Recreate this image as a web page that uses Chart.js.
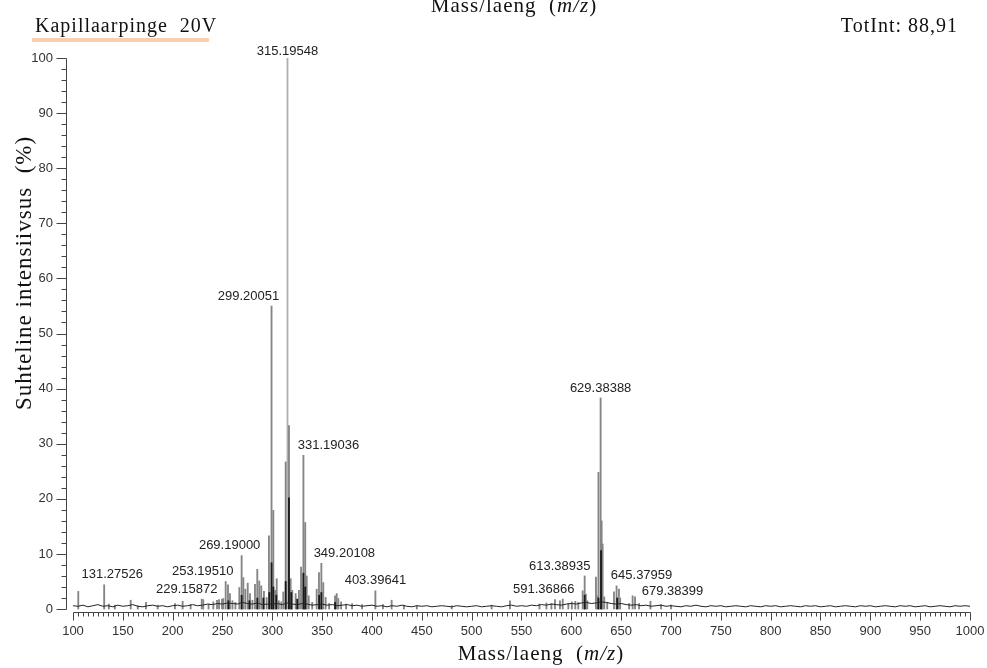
<!DOCTYPE html>
<html>
<head>
<meta charset="utf-8">
<script src="https://cdn.jsdelivr.net/npm/chart.js@4.4.0/dist/chart.umd.min.js"></script>
<style>
  html, body { margin: 0; padding: 0; background: #fff; }
  #wrap { width: 987px; height: 668px; }
</style>
</head>
<body>
<div id="wrap"><canvas id="spectrum"></canvas></div>
<script>
// stick spectrum, m/z vs relative intensity (%)
const peakMz = [105.3, 131.27526, 136, 142, 157.9, 165, 173.2, 185, 202.3, 210, 218, 229.15872, 230.7, 236, 240.8,
  244.5, 246.5, 249.5, 250.8, 253.1951, 255.5, 257.5, 260, 263, 266.9, 269.19, 270.9, 272.9, 275.3, 277.6, 280,
  282.6, 284.9, 286.9, 288.9, 291.6, 294.3, 296.6, 299.20051, 301.0, 303.0, 304.4, 306.5, 309, 311, 313.4, 316.7,
  318.4, 320, 323.4, 326.7, 328.8, 331.19036, 333.0, 334.5, 336.5, 340, 344.5, 346.8, 349.20108, 351.1, 353.5, 357,
  362.9, 364.6, 366.2, 369, 374, 380, 390, 403.39641, 411, 419.7, 432, 445, 480, 520, 538.4, 568, 575, 580, 583.6,
  588.6, 591.36866, 597, 600.5, 604, 607, 611.4, 613.38935, 614.6, 616, 624.7, 626.2, 627.2, 629.38388, 630.4, 631.4,
  633, 636, 642.8, 645.37959, 647.8, 649, 658, 661.5, 663.9, 668, 679.38399, 690, 700];
const peakInt = [3.2, 4.4, 0.9, 0.7, 1.6, 0.6, 1.2, 0.7, 1.0, 1.4, 0.8, 1.8, 1.7, 0.9, 1.3,
  1.6, 1.7, 1.8, 1.9, 5.0, 4.4, 2.8, 1.5, 1.2, 3.9, 9.7, 5.7, 3.6, 4.7, 2.8, 1.6,
  4.5, 7.2, 5.1, 4.2, 3.2, 2.1, 13.3, 55.0, 17.9, 3.4, 5.5, 1.5, 1.3, 3.1, 26.7, 33.3,
  5.5, 3.4, 2.8, 3.4, 7.6, 27.9, 15.7, 6.0, 2.4, 1.2, 3.6, 6.6, 8.3, 4.8, 2.1, 1.0,
  2.4, 2.8, 1.9, 1.3, 0.9, 1.0, 0.8, 3.3, 0.8, 1.6, 0.7, 0.6, 0.6, 0.7, 1.5, 0.9, 1.1, 1.0, 1.7,
  1.5, 1.8, 1.0, 1.3, 1.4, 1.2, 3.3, 6.0, 2.7, 1.5, 5.8, 2.4, 24.8, 38.3, 16.0, 11.8,
  2.2, 1.2, 3.1, 4.2, 3.6, 2.0, 1.0, 2.4, 2.2, 1.0, 1.4, 0.8, 0.7];

const basePeakMz = [315.19548];
const basePeakInt = [100];

// darker sticks that sit over the grey ones
const overlapMz = [256, 269.19, 277, 285, 291, 297, 299.20051, 301, 304, 313.4, 316.7, 319, 325, 331.19036, 333,
  347, 349.20108, 363, 613.38935, 627.2, 629.8, 646];
const overlapInt = [1.5, 2.5, 1.5, 2.0, 2.0, 3.0, 8.4, 4.0, 2.5, 5.0, 20.2, 3.0, 1.8, 6.5, 4.0,
  2.5, 3.0, 1.2, 2.5, 2.0, 10.6, 2.0];

// baseline noise, one value every 5 m/z from 100 to 1000
const noiseStartMz = 100;
const noiseStepMz = 5;
const noiseInt = [
  0.6, 0.5, 0.7, 0.4, 0.6, 0.8, 0.5, 0.6, 0.4, 0.7, 0.5, 0.6, 0.8, 0.5, 0.4, 0.6, 0.7, 0.5, 0.6, 0.4,
  0.6, 0.7, 0.5, 0.6, 0.8, 0.6, 0.7, 0.9, 0.8, 1.0, 0.9, 1.1, 1.0, 0.9, 1.2, 1.0, 0.9, 1.1, 0.8, 0.9,
  0.9, 1.0, 0.8, 1.1, 0.9, 0.8, 1.0, 0.9, 0.7, 0.8, 0.9, 0.7, 0.8, 0.6, 0.7, 0.8, 0.6, 0.7, 0.5, 0.6,
  0.7, 0.5, 0.6, 0.4, 0.6, 0.5, 0.7, 0.5, 0.4, 0.6, 0.5, 0.6, 0.4, 0.5, 0.6, 0.5, 0.4, 0.6, 0.5, 0.4,
  0.5, 0.6, 0.4, 0.5, 0.6, 0.5, 0.4, 0.6, 0.7, 0.5, 0.6, 0.5, 0.7, 0.6, 0.8, 0.7, 0.9, 0.8, 0.7, 0.9,
  1.0, 0.9, 1.1, 1.2, 1.0, 1.1, 1.3, 1.2, 1.0, 0.9, 1.0, 0.8, 0.7, 0.8, 0.6, 0.7, 0.5, 0.6, 0.7, 0.5,
  0.6, 0.5, 0.4, 0.6, 0.5, 0.7, 0.5, 0.4, 0.6, 0.5, 0.6, 0.4, 0.5, 0.6, 0.5, 0.4, 0.6, 0.5, 0.4, 0.6,
  0.5, 0.6, 0.4, 0.5, 0.6, 0.5, 0.4, 0.6, 0.5, 0.6, 0.4, 0.5, 0.6, 0.4, 0.5, 0.6, 0.5, 0.4, 0.6, 0.5,
  0.6, 0.4, 0.5, 0.6, 0.5, 0.4, 0.6, 0.5, 0.6, 0.4, 0.5, 0.6, 0.4, 0.5, 0.6, 0.5, 0.4, 0.6, 0.5, 0.6,
  0.5];

// annotated peaks
const labelMz = [131.27526, 229.15872, 253.19510, 269.19000, 299.20051, 315.19548, 331.19036, 349.20108,
  403.39641, 591.36866, 613.38935, 629.38388, 645.37959, 679.38399];
const labelInt = [4.4, 1.8, 5.0, 9.7, 55.0, 100, 27.9, 8.3, 3.3, 1.8, 6.0, 38.3, 4.2, 1.4];
const labelShift = [8, -15, -23, -12, -23, 0, 25, 23, 0, -19, -25, 0, 25, 22];

const xTickValues = [100, 150, 200, 250, 300, 350, 400, 450, 500, 550, 600, 650, 700, 750, 800, 850, 900, 950, 1000];
const yTickValues = [0, 10, 20, 30, 40, 50, 60, 70, 80, 90, 100];

const sans = '"Liberation Sans", Arial, sans-serif';
const serif = '"Liberation Serif", "Times New Roman", serif';

const toPoints = (xs, ys) => xs.map((m, i) => ({ x: m, y: ys[i] }));

const decorations = {
  id: 'decorations',
  afterDraw(chart) {
    const ctx = chart.ctx;
    const xs = chart.scales.x, ys = chart.scales.y;
    const left = Math.round(chart.chartArea.left) + 0.5;
    const bottom = Math.round(chart.chartArea.bottom) + 0.5;
    ctx.save();

    // axes with major / minor ticks
    ctx.strokeStyle = '#444';
    ctx.lineWidth = 1;
    ctx.beginPath();
    ctx.moveTo(left, Math.round(ys.getPixelForValue(0)) + 0.5);
    ctx.lineTo(left, Math.round(ys.getPixelForValue(100)) + 0.5);
    for (let v = 0; v <= 100; v += 2) {
      const py = Math.round(ys.getPixelForValue(v)) + 0.5;
      const len = v % 10 === 0 ? 10 : 5;
      ctx.moveTo(left - len, py);
      ctx.lineTo(left, py);
    }
    ctx.moveTo(Math.round(xs.getPixelForValue(100)) + 0.5, bottom);
    ctx.lineTo(Math.round(xs.getPixelForValue(1000)) + 0.5, bottom);
    for (let v = 100; v <= 1000; v += 5) {
      const px = Math.round(xs.getPixelForValue(v)) + 0.5;
      const len = v % 50 === 0 ? 8 : 4;
      ctx.moveTo(px, bottom);
      ctx.lineTo(px, bottom + len);
    }
    ctx.stroke();

    // peak annotations
    ctx.fillStyle = '#222';
    ctx.font = '13px ' + sans;
    ctx.textAlign = 'center';
    ctx.textBaseline = 'middle';
    labelMz.forEach((m, i) => {
      const px = xs.getPixelForValue(m) + labelShift[i];
      const py = Math.max(ys.getPixelForValue(labelInt[i]) - 10, 51);
      ctx.fillText(m.toFixed(5), px, py);
    });

    // axis titles (the original serif text is set a little wide)
    ctx.fillStyle = '#111';
    ctx.letterSpacing = '1px';
    const drawMzTitle = (cx, base) => {
      const parts = [['Mass/laeng  (', ''], ['m/z', 'italic '], [')', '']];
      let w = 0;
      parts.forEach(p => { ctx.font = p[1] + '21px ' + serif; w += ctx.measureText(p[0]).width; });
      let x = cx - w / 2;
      ctx.textAlign = 'left';
      ctx.textBaseline = 'alphabetic';
      parts.forEach(p => {
        ctx.font = p[1] + '21px ' + serif;
        ctx.fillText(p[0], x, base);
        x += ctx.measureText(p[0]).width;
      });
    };
    drawMzTitle(541, 660);
    drawMzTitle(514, 12);

    ctx.save();
    ctx.translate(31, 273);
    ctx.rotate(-Math.PI / 2);
    ctx.font = '23px ' + serif;
    ctx.textAlign = 'center';
    ctx.textBaseline = 'alphabetic';
    ctx.fillText('Suhteline intensiivsus  (%)', 0, 0);
    ctx.restore();

    // header
    ctx.fillStyle = '#fbcfac';
    ctx.fillRect(32, 38, 177, 4);
    ctx.fillStyle = '#111';
    ctx.font = '20px ' + serif;
    ctx.textAlign = 'left';
    ctx.textBaseline = 'alphabetic';
    ctx.fillText('Kapillaarpinge  20V', 35, 32);
    ctx.textAlign = 'right';
    ctx.fillText('TotInt: 88,91', 958, 32);
    ctx.restore();
  }
};

new Chart(document.getElementById('spectrum'), {
  type: 'bar',
  data: {
    datasets: [
      {
        type: 'line',
        data: noiseInt.map((v, i) => ({ x: noiseStartMz + i * noiseStepMz, y: v })),
        borderColor: '#222',
        borderWidth: 1,
        pointRadius: 0,
        tension: 0,
        order: 0
      },
      {
        data: toPoints(overlapMz, overlapInt),
        backgroundColor: '#1a1a1a',
        barThickness: 1.2,
        grouped: false,
        order: 1
      },
      {
        data: toPoints(peakMz, peakInt),
        backgroundColor: '#858585',
        barThickness: 1.2,
        grouped: false,
        order: 2
      },
      {
        data: toPoints(basePeakMz, basePeakInt),
        backgroundColor: '#b0b0b0',
        barThickness: 1.2,
        grouped: false,
        order: 3
      }
    ]
  },
  options: {
    responsive: true,
    maintainAspectRatio: false,
    animation: false,
    devicePixelRatio: 1,
    layout: { padding: { top: 58, right: 17, left: 0, bottom: 0 } },
    plugins: { legend: { display: false }, tooltip: { enabled: false } },
    scales: {
      x: {
        type: 'linear',
        min: 92.98,
        max: 1000,
        offset: false,
        grid: { display: false },
        border: { display: false },
        afterBuildTicks: s => { s.ticks = xTickValues.map(v => ({ value: v })); },
        afterFit: s => { s.height = 56; s.paddingLeft = 0; s.paddingRight = 0; },
        ticks: {
          padding: 4, color: '#333', font: { family: sans, size: 13 }, maxRotation: 0, autoSkip: false,
          callback: v => String(v)
        }
      },
      y: {
        min: -0.54,
        max: 100,
        grid: { display: false },
        border: { display: false },
        afterBuildTicks: s => { s.ticks = yTickValues.map(v => ({ value: v })); },
        afterFit: s => { s.width = 66; s.paddingTop = 0; s.paddingBottom = 0; },
        ticks: { padding: 5, color: '#333', font: { family: sans, size: 13 }, callback: v => String(v) }
      }
    }
  },
  plugins: [decorations]
});
</script>
</body>
</html>
